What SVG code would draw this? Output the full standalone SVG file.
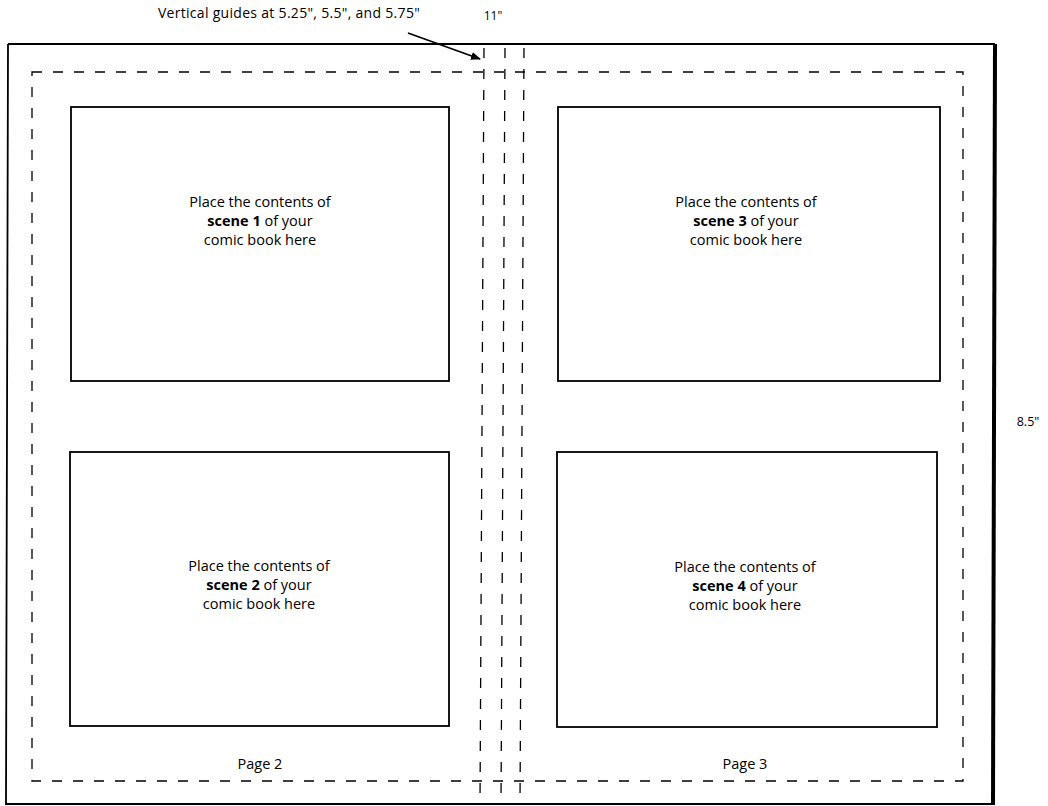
<svg xmlns="http://www.w3.org/2000/svg" width="1048" height="806" viewBox="0 0 1048 806">
<style>
text{font-family:"Open Sans","Liberation Sans",sans-serif;fill:#000;}
.t{font-size:14.5px;text-anchor:middle;}
.b{font-weight:bold;}
.panel{fill:#fff;stroke:#000;stroke-width:1.8;}
.dash{fill:none;stroke:#000;stroke-width:1.3;stroke-dasharray:10 11;}
</style>
<defs>
<marker id="ah" markerWidth="10" markerHeight="8" refX="9" refY="4" orient="auto" markerUnits="userSpaceOnUse">
<path d="M0,0 L10,4 L0,8 z" fill="#000"/>
</marker>
</defs>
<rect width="1048" height="806" fill="#fff"/>
<g id="sheet">
<path d="M8,44 L995,44" stroke="#000" stroke-width="1.8" fill="none"/>
<path d="M8,44 L6,804 L995,804" stroke="#000" stroke-width="1.8" fill="none"/>
<path d="M995,44 L993,804" stroke="#000" stroke-width="4" fill="none"/>
</g>
<g id="guides">
<rect class="dash" x="32" y="72" width="931" height="709"/>
<line class="dash" x1="484" y1="48" x2="480" y2="804"/>
<line class="dash" x1="505" y1="48" x2="501" y2="804"/>
<line class="dash" x1="524" y1="48" x2="520" y2="804"/>
</g>
<g id="connectors">
<line x1="408" y1="33" x2="480" y2="59" stroke="#000" stroke-width="1.8" marker-end="url(#ah)"/>
</g>
<g id="labels">
<text x="289" y="18" style="font-size:14px;text-anchor:middle;letter-spacing:0.3px">Vertical guides at 5.25", 5.5", and 5.75"</text>
<text x="493" y="20" style="font-size:12px;text-anchor:middle">11"</text>
<text x="1028" y="426" style="font-size:12.5px;text-anchor:middle">8.5"</text>
</g>
<g id="scene1">
<rect class="panel" x="71" y="107" width="378" height="274"/>
<text class="t" x="260" y="207">Place the contents of</text>
<text class="t" x="260" y="226"><tspan class="b">scene 1</tspan> of your</text>
<text class="t" x="260" y="245">comic book here</text>
</g>
<g id="scene3">
<rect class="panel" x="558" y="107" width="382" height="274"/>
<text class="t" x="746" y="207">Place the contents of</text>
<text class="t" x="746" y="226"><tspan class="b">scene 3</tspan> of your</text>
<text class="t" x="746" y="245">comic book here</text>
</g>
<g id="scene2">
<rect class="panel" x="70" y="452" width="379" height="274"/>
<text class="t" x="259" y="571">Place the contents of</text>
<text class="t" x="259" y="590"><tspan class="b">scene 2</tspan> of your</text>
<text class="t" x="259" y="609">comic book here</text>
</g>
<g id="scene4">
<rect class="panel" x="557" y="452" width="380" height="275"/>
<text class="t" x="745" y="572">Place the contents of</text>
<text class="t" x="745" y="591"><tspan class="b">scene 4</tspan> of your</text>
<text class="t" x="745" y="610">comic book here</text>
</g>
<g id="page2">
<text class="t" x="260" y="769">Page 2</text>
</g>
<g id="page3">
<text class="t" x="745" y="769">Page 3</text>
</g>
</svg>
